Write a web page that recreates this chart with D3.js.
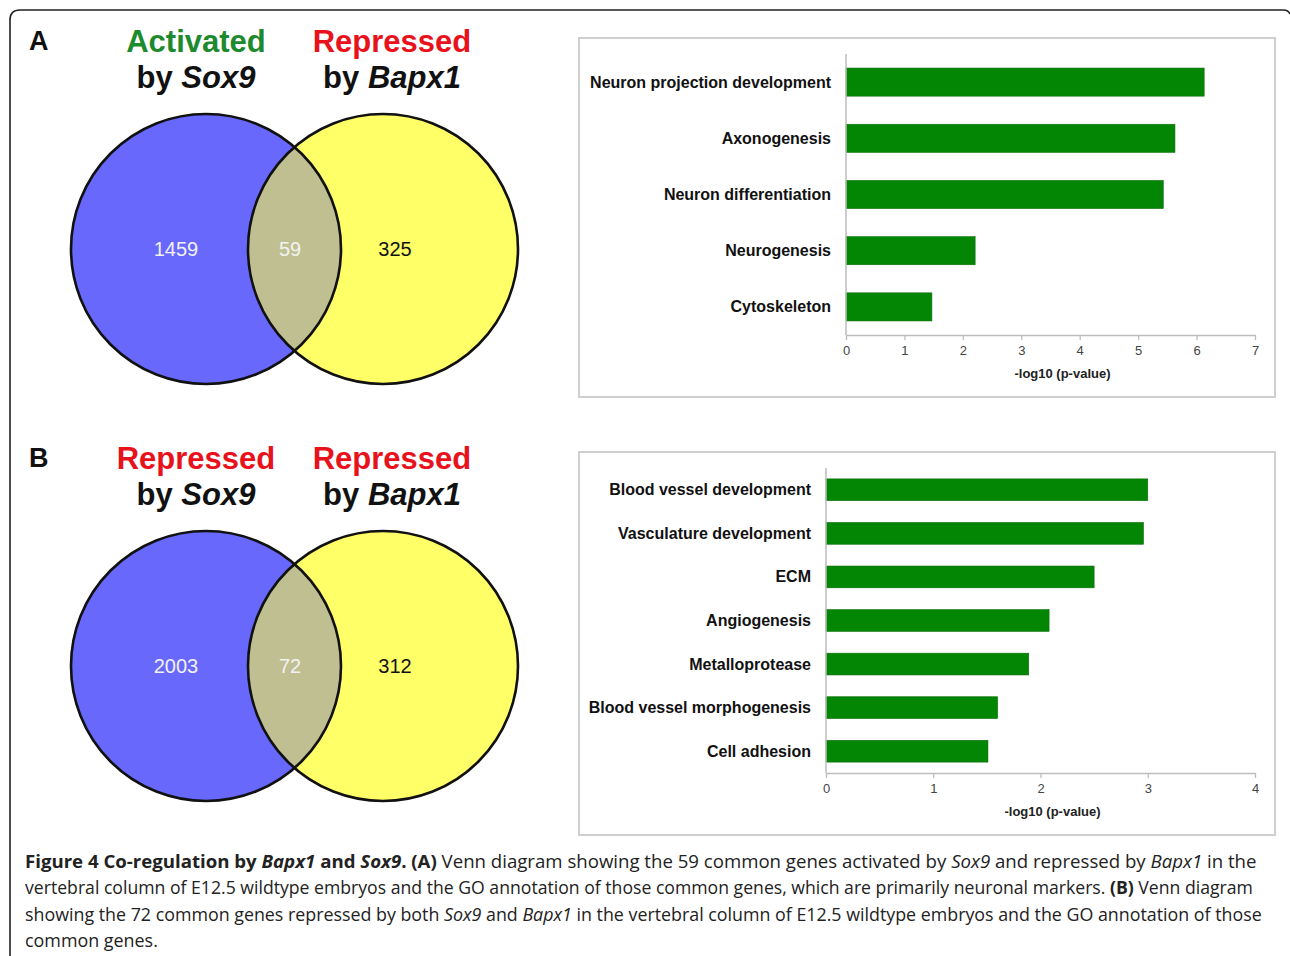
<!DOCTYPE html>
<html><head><meta charset="utf-8">
<script src="https://cdn.jsdelivr.net/npm/d3@7"></script>
<style>html,body{margin:0;padding:0;background:#fff;}svg{display:block;}</style>
</head><body>
<script>
// ---------- data ----------
const vennCountsA = [1459, 59, 325];
const vennCountsB = [2003, 72, 312];
const vennTitlesA = [["Activated", "Sox9"], ["Repressed", "Bapx1"]];
const vennTitlesB = [["Repressed", "Sox9"], ["Repressed", "Bapx1"]];
const vennTitleColorsA = ["#1e8a2e", "#e8121c"];
const vennTitleColorsB = ["#e8121c", "#e8121c"];

const termsA = ["Neuron projection development", "Axonogenesis", "Neuron differentiation", "Neurogenesis", "Cytoskeleton"];
const valuesA = [6.13, 5.63, 5.43, 2.21, 1.47];
const ticksA = [0, 1, 2, 3, 4, 5, 6, 7];

const termsB = ["Blood vessel development", "Vasculature development", "ECM", "Angiogenesis", "Metalloprotease", "Blood vessel morphogenesis", "Cell adhesion"];
const valuesB = [3.00, 2.96, 2.50, 2.08, 1.89, 1.60, 1.51];
const ticksB = [0, 1, 2, 3, 4];

const axisTitle = "-log10 (p-value)";

const W = 1290, H = 956;
const svg = d3.select("body").append("svg").attr("width", W).attr("height", H);

// outer frame
svg.append("path")
  .attr("d", "M10,960 L10,20 Q10,10 20,10 L1284,10 Q1288,10 1290,14")
  .attr("fill", "none").attr("stroke", "#222").attr("stroke-width", 1.6);

const defs = svg.append("defs");

function venn(id, letter, cy, titles, colors, counts) {
  const g = svg.append("g");
  const r = 135;
  const x = d3.scaleLinear().domain([0, 1]).range([206, 383]);
  g.append("text").attr("x", 29).attr("y", cy - 199).text(letter)
    .attr("font-family", "Liberation Sans, Arial").attr("font-weight", "bold").attr("font-size", 27).attr("fill", "#111");
  titles.forEach((t, i) => {
    const cx = i === 0 ? 196 : 392;
    g.append("text").attr("x", cx).attr("y", cy - 197).attr("text-anchor", "middle")
      .attr("font-family", "Liberation Sans, Arial").attr("font-weight", "bold").attr("font-size", 31)
      .attr("fill", colors[i]).text(t[0]);
    const t2 = g.append("text").attr("x", cx).attr("y", cy - 161).attr("text-anchor", "middle")
      .attr("font-family", "Liberation Sans, Arial").attr("font-weight", "bold").attr("font-size", 31).attr("fill", "#111");
    t2.append("tspan").text("by ");
    t2.append("tspan").attr("font-style", "italic").text(t[1]);
  });
  const cxs = [x(0), x(1)];
  defs.append("clipPath").attr("id", "clip" + id).append("circle").attr("cx", cxs[0]).attr("cy", cy).attr("r", r);
  g.append("circle").attr("cx", cxs[0]).attr("cy", cy).attr("r", r).attr("fill", "#6868fd");
  g.append("circle").attr("cx", cxs[1]).attr("cy", cy).attr("r", r).attr("fill", "#ffff68");
  g.append("circle").attr("cx", cxs[1]).attr("cy", cy).attr("r", r).attr("fill", "#bfbf92").attr("clip-path", "url(#clip" + id + ")");
  cxs.forEach(c => g.append("circle").attr("cx", c).attr("cy", cy).attr("r", r)
    .attr("fill", "none").attr("stroke", "#111").attr("stroke-width", 2.6));
  const lx = [176, 290, 395];
  const lc = ["#f2f2f2", "#f2f2f2", "#111"];
  counts.forEach((v, i) => {
    g.append("text").attr("x", lx[i]).attr("y", cy + 7).attr("text-anchor", "middle")
      .attr("font-family", "Liberation Sans, Arial").attr("font-size", 20).attr("fill", lc[i]).text(v);
  });
}
venn("A", "A", 249, vennTitlesA, vennTitleColorsA, vennCountsA);
venn("B", "B", 666, vennTitlesB, vennTitleColorsB, vennCountsB);

function barChart(box, x0, yTop, yBase, terms, values, ticks, labelSize) {
  svg.append("rect").attr("x", box[0]).attr("y", box[1]).attr("width", box[2] - box[0]).attr("height", box[3] - box[1])
    .attr("fill", "#fff").attr("stroke", "#cfcfcf").attr("stroke-width", 2);
  const x = d3.scaleLinear().domain([0, ticks[ticks.length - 1]]).range([x0, 1255]);
  const y = d3.scaleBand().domain(terms).range([yTop, yBase]).paddingInner(0.5).paddingOuter(0.25);
  const g = svg.append("g");
  g.selectAll("rect.bar").data(terms).join("rect").attr("class", "bar")
    .attr("x", x(0)).attr("y", d => y(d)).attr("height", y.bandwidth())
    .attr("width", (d, i) => x(values[i]) - x(0))
    .attr("fill", "#038603").attr("stroke", "#0b6e0b").attr("stroke-width", 0.6);
  const ax = g.append("g").attr("transform", `translate(0,${yBase})`)
    .call(d3.axisBottom(x).tickValues(ticks).tickFormat(d3.format("d")).tickSize(5).tickSizeOuter(0).tickPadding(6));
  ax.select(".domain").attr("stroke", "#bdbdbd").attr("stroke-width", 1.5);
  ax.selectAll(".tick line").attr("stroke", "#bdbdbd").attr("stroke-width", 1.3);
  ax.selectAll(".tick text").attr("font-family", "Liberation Sans, Arial").attr("font-size", 13).attr("fill", "#444");
  g.append("line").attr("x1", x(0)).attr("x2", x(0)).attr("y1", yTop).attr("y2", yBase)
    .attr("stroke", "#bdbdbd").attr("stroke-width", 1.5);
  g.selectAll("text.lab").data(terms).join("text").attr("class", "lab")
    .attr("x", x(0) - 15).attr("y", d => y(d) + y.bandwidth() / 2 + 5.5).attr("text-anchor", "end")
    .attr("font-family", "Liberation Sans, Arial").attr("font-weight", "bold").attr("font-size", labelSize)
    .attr("fill", "#111").text(d => d);
  g.append("text").attr("x", (x(0) + 1255) / 2 + 12).attr("y", yBase + 43).attr("text-anchor", "middle")
    .attr("font-family", "Liberation Sans, Arial").attr("font-weight", "bold").attr("font-size", 13)
    .attr("fill", "#222").text(axisTitle);
}
barChart([579, 38, 1275, 397], 846, 54, 335, termsA, valuesA, ticksA, 16);
barChart([579, 452, 1275, 835], 826, 468, 773, termsB, valuesB, ticksB, 16);

// caption
const captionLines = [
  { y: 868, w: 1233, parts: [["Figure 4 Co-regulation by ", "b", ""], ["Bapx1", "b", "i"], [" and ", "b", ""], ["Sox9", "b", "i"], [". (A)", "b", ""], [" Venn diagram showing the 59 common genes activated by ", "", ""], ["Sox9", "", "i"], [" and repressed by ", "", ""], ["Bapx1", "", "i"], [" in the", "", ""]] },
  { y: 894, w: 1229, parts: [["vertebral column of E12.5 wildtype embryos and the GO annotation of those common genes, which are primarily neuronal markers. ", "", ""], ["(B)", "b", ""], [" Venn diagram", "", ""]] },
  { y: 921, w: 1238, parts: [["showing the 72 common genes repressed by both ", "", ""], ["Sox9", "", "i"], [" and ", "", ""], ["Bapx1", "", "i"], [" in the vertebral column of E12.5 wildtype embryos and the GO annotation of those", "", ""]] },
  { y: 947, w: 133, parts: [["common genes.", "", ""]] }
];
captionLines.forEach(l => {
  const g = svg.append("g");
  const t = g.append("text").attr("x", 0).attr("y", 0)
    .attr("font-family", "Open Sans, sans-serif").attr("font-size", 18.5).attr("fill", "#222");
  l.parts.forEach(p => {
    t.append("tspan").attr("font-weight", p[1] === "b" ? "bold" : "normal")
      .attr("font-style", p[2] === "i" ? "italic" : "normal").text(p[0]);
  });
  const len = t.node().getComputedTextLength();
  g.attr("transform", `translate(25,${l.y}) scale(${l.w / len},1)`);
});
</script>
</body></html>
